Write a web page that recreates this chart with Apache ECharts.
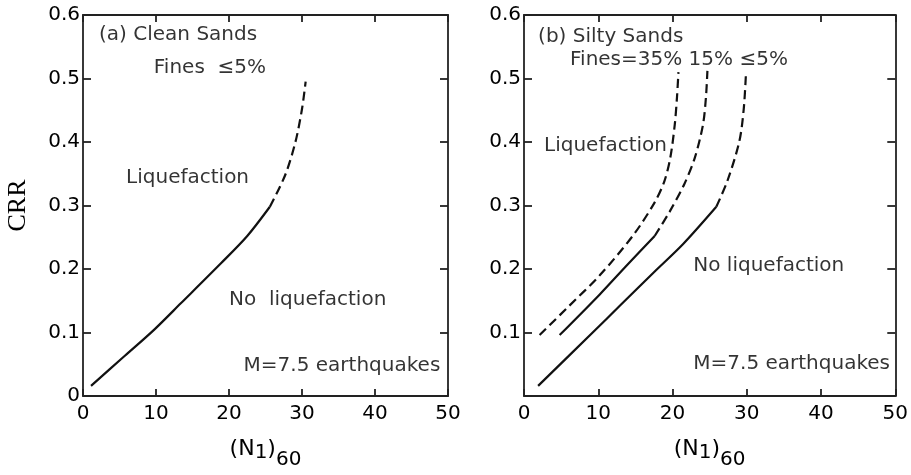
<!DOCTYPE html>
<html>
<head>
<meta charset="utf-8">
<script src="https://cdn.jsdelivr.net/npm/echarts@6/dist/echarts.min.js"></script>
<style>
  html, body { margin: 0; padding: 0; background: #fff; }
  #chart { width: 911px; height: 475px; }
</style>
</head>
<body>
<div id="chart"></div>
<script>
// x ticks: (N1)60, y ticks: CRR
const xTicks = [0, 10, 20, 30, 40, 50];
const yTicks = [0, 0.1, 0.2, 0.3, 0.4, 0.5, 0.6];

// (a) clean sands, fines <= 5%
const cleanSolid = [[1.1, 0.016], [5.5, 0.061], [9.8, 0.105], [13.4, 0.146], [18.9, 0.209], [22.5, 0.252], [25.6, 0.298]];
const cleanDashed = [[25.6, 0.298], [27.7, 0.348], [29.1, 0.40], [30.0, 0.452], [30.5, 0.495]];

// (b) silty sands
const fines5Solid = [[1.9, 0.016], [9.25, 0.1], [12.9, 0.142], [17.5, 0.195], [21.4, 0.239], [25.9, 0.298]];
const fines5Dashed = [[25.9, 0.298], [27.4, 0.339], [29.0, 0.401], [29.6, 0.453], [29.9, 0.51]];
const fines15Solid = [[4.8, 0.096], [10.2, 0.160], [13.7, 0.204], [17.6, 0.252]];
const fines15Dashed = [[17.6, 0.252], [19.6, 0.29], [21.6, 0.334], [23.0, 0.375], [24.1, 0.427], [24.5, 0.47], [24.7, 0.512]];
const fines35Dashed = [[2.1, 0.096], [6.0, 0.141], [10.2, 0.19], [14.7, 0.253], [17.6, 0.305], [18.9, 0.338], [19.7, 0.375], [20.3, 0.427], [20.6, 0.47], [20.8, 0.51]];

// text notes inside the panels: [x, y, text]
const notesA = [
  [2.2, 0.569, '(a) Clean Sands'],
  [9.7, 0.517, 'Fines  ≤5%'],
  [5.9, 0.343, 'Liquefaction'],
  [20.0, 0.151, 'No  liquefaction'],
  [22.0, 0.047, 'M=7.5 earthquakes']
];
const notesB = [
  [1.9, 0.566, '(b) Silty Sands'],
  [6.2, 0.529, 'Fines=35% 15% ≤5%'],
  [2.7, 0.394, 'Liquefaction'],
  [22.8, 0.205, 'No liquefaction'],
  [22.8, 0.05, 'M=7.5 earthquakes']
];

const ink = '#000';
const font = 'DejaVu Sans';

let chart = echarts.init(document.getElementById('chart'));

function xAx(grid, pos) {
  let bottom = pos === 'bottom';
  return {
    type: 'value', gridIndex: grid, position: pos,
    min: xTicks[0], max: xTicks[xTicks.length - 1], interval: 10,
    axisLine: {onZero: false, lineStyle: {color: '#222', width: 1.8}},
    axisTick: {show: true, inside: true, length: 7, lineStyle: {color: '#222', width: 1.8}},
    axisLabel: {show: bottom, color: ink, fontFamily: font, fontSize: 20, margin: 8},
    splitLine: {show: false},
    name: bottom ? '(N{s1|1}){s2|60}' : '',
    nameLocation: 'middle', nameGap: 32,
    nameTextStyle: {color: ink, fontFamily: font, fontSize: 22,
      rich: {
        s1: {fontSize: 20, fontFamily: font, color: ink, padding: [8, 0, 0, 0]},
        s2: {fontSize: 20, fontFamily: font, color: ink, padding: [22, 0, 0, 0]}
      }}
  };
}

function yAx(grid, pos, showZero) {
  let left = pos === 'left';
  return {
    type: 'value', gridIndex: grid, position: pos,
    min: yTicks[0], max: yTicks[yTicks.length - 1], interval: 0.1,
    axisLine: {onZero: false, lineStyle: {color: '#222', width: 1.8}},
    axisTick: {show: true, inside: true, length: 8, lineStyle: {color: '#222', width: 1.8}},
    axisLabel: {show: left, color: ink, fontFamily: font, fontSize: 20, margin: 3,
      formatter: (v) => v === 0 ? (showZero ? '0' : '') : v.toFixed(1)},
    splitLine: {show: false},
    name: (left && grid === 0) ? 'CRR' : '',
    nameLocation: 'middle', nameRotate: 90, nameGap: 52,
    nameTextStyle: {color: ink, fontFamily: 'Liberation Serif', fontSize: 26}
  };
}

function curve(name, data, xi, dashed) {
  return {
    name: name, type: 'line', xAxisIndex: xi, yAxisIndex: xi * 2,
    data: data, smooth: 0.3, showSymbol: false, symbol: 'none',
    lineStyle: {color: '#111', width: 2.2, type: dashed ? [9, 5] : 'solid'},
    z: 3
  };
}

function notes(data, xi) {
  return {
    type: 'scatter', xAxisIndex: xi, yAxisIndex: xi * 2,
    data: data, symbolSize: 0, silent: true,
    label: {show: true, position: 'right', distance: 0, color: ink,
      fontFamily: font, fontSize: 20, formatter: (p) => p.data[2]}
  };
}

chart.setOption({
  animation: false,
  backgroundColor: '#fff',
  grid: [
    {left: 83, right: 463, top: 15, bottom: 75},
    {left: 524, right: 14, top: 15, bottom: 73}
  ],
  xAxis: [
    xAx(0, 'bottom'), xAx(1, 'bottom'),
    xAx(0, 'top'), xAx(1, 'top')
  ],
  yAxis: [
    yAx(0, 'left', true), yAx(0, 'right', true),
    yAx(1, 'left', false), yAx(1, 'right', false)
  ],
  series: [
    curve('clean solid', cleanSolid, 0, false),
    curve('clean dashed', cleanDashed, 0, true),
    curve('5% solid', fines5Solid, 1, false),
    curve('5% dashed', fines5Dashed, 1, true),
    curve('15% solid', fines15Solid, 1, false),
    curve('15% dashed', fines15Dashed, 1, true),
    curve('35% dashed', fines35Dashed, 1, true),
    notes(notesA, 0),
    notes(notesB, 1)
  ]
});
</script>
</body>
</html>
